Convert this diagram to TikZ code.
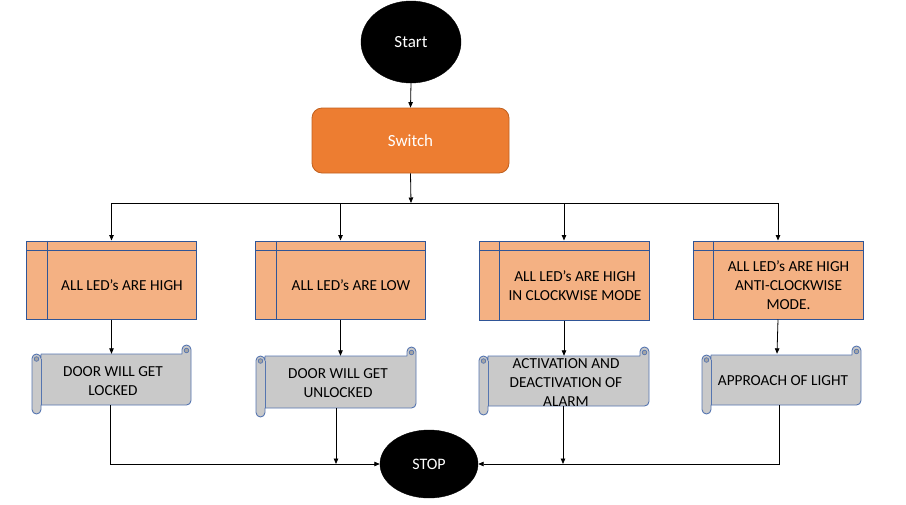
\documentclass[tikz,border=0pt]{standalone}
\usepackage{fontspec}
\setmainfont{Carlito}
\usetikzlibrary{arrows.meta,shapes.geometric,calc}
\definecolor{boxfill}{HTML}{F4B183}
\definecolor{boxline}{HTML}{2F5597}
\definecolor{scrollfill}{HTML}{C9C9C9}
\definecolor{scrollline}{HTML}{5575B0}
\definecolor{curlfill}{HTML}{A5A5A5}
\definecolor{swfill}{HTML}{ED7D31}
\definecolor{swline}{HTML}{C0601E}
\newcommand\myscroll[4]{%
  \draw[scrollsty] ({#1+9},{-(#3+9)}) -- ({#2-9},{-(#3+9)}) -- ({#2-9},{-(#3+4.5)})
    arc[start angle=180,end angle=0,radius=4.5] -- ({#2},{-(#4-13.5)})
    arc[start angle=0,end angle=-90,radius=4.5] -- ({#1+9},{-(#4-9)}) -- ({#1+9},{-(#4-4.5)})
    arc[start angle=0,end angle=-180,radius=4.5] -- ({#1},{-(#3+13.5)})
    arc[start angle=180,end angle=0,radius=4.5] -- cycle;
  \draw[scrollline,line width=0.9pt] ({#1+9},{-(#3+13.5)}) -- ({#1+9},{-(#4-9)});
  \draw[scrollline,line width=0.7pt,fill=curlfill] ({#2-4.5},{-(#3+5.5)}) circle (2.3);
  \draw[scrollline,line width=0.7pt,fill=curlfill] ({#1+4.5},{-(#3+14)}) circle (2.3);
}
\tikzset{
  conn/.style={line width=0.8pt,black},
  arr/.style={conn,-{Triangle[length=5.5pt,width=4.5pt]}},
  term/.style={ellipse,fill=black,draw=black,text=white,inner sep=0pt},
  storebox/.style={rectangle,fill=boxfill,draw=boxline,line width=1pt,inner sep=0pt,minimum width=170pt,minimum height=78pt},
  boxtext/.style={align=center,font=\fontsize{15.3}{19}\selectfont,inner sep=0pt},
  scrollsty/.style={fill=scrollfill,draw=scrollline,line width=0.9pt,line join=round},
  ghost/.style={rectangle,inner sep=0pt}
}
\begin{document}
\begin{tikzpicture}[x=1pt,y=1pt]
\useasboundingbox (0,0) rectangle (906,-504);
% start, switch
\node[term,minimum width=100pt,minimum height=82pt,font=\fontsize{17}{20}\selectfont] (start) at (411,-42) {\raisebox{-1.5pt}{Start}};
\node[rectangle,rounded corners=10pt,fill=swfill,draw=swline,line width=0.8pt,minimum width=197pt,minimum height=65pt,text=white,font=\fontsize{17}{20}\selectfont] (switch) at (410.5,-140.5) {Switch};
\coordinate (bus) at (411,-203);
\draw[arr] (start.south) -- (switch.north);
\draw[arr] (switch.south) -- (bus);
% storage boxes
\node[storebox] (b1) at (111.5,-280) {};
\node[storebox] (b2) at (340.5,-280) {};
\node[storebox,minimum height=79pt] (b3) at (564,-280.5) {};
\node[storebox] (b4) at (778,-280) {};
\foreach \b in {b1,b2,b3,b4}{
  \draw[boxline,line width=0.9pt] ([xshift=21pt]\b.north west) -- ([xshift=21pt]\b.south west);
  \draw[boxline,line width=0.9pt] ([yshift=-10pt]\b.north west) -- ([yshift=-10pt]\b.north east);
}
\node[boxtext] (t1) at (122,-285) {ALL LED’s ARE HIGH};
\node[boxtext] (t2) at (351,-285) {ALL LED’s ARE LOW};
\node[boxtext] (t3) at (575,-285.5) {ALL LED’s ARE HIGH\\IN CLOCKWISE MODE};
\node[boxtext] (t4) at (788.5,-285) {ALL LED’s ARE HIGH\\ANTI-CLOCKWISE\\MODE.};
% bus
\draw[conn] (b1.north |- bus) -- (b4.north |- bus);
\foreach \b in {b1,b2,b3,b4}{ \draw[arr] (\b.north |- bus) -- (\b.north); }
% scrolls
\myscroll{32}{191}{345}{414}
\myscroll{256}{416}{347}{417}
\myscroll{479}{649}{347}{415}
\myscroll{702}{861}{346}{414}
\node[ghost,minimum width=159pt,minimum height=51pt] (s1) at (111.5,-379.5) {};
\node[ghost,minimum width=160pt,minimum height=52pt] (s2) at (336,-382) {};
\node[ghost,minimum width=170pt,minimum height=50pt] (s3) at (563,-381) {};
\node[ghost,minimum width=159pt,minimum height=51pt] (s4) at (779,-379.5) {};
\node[boxtext] (u1) at (113,-381.5) {DOOR WILL GET\\LOCKED};
\node[boxtext] (u2) at (338,-383) {DOOR WILL GET\\UNLOCKED};
\node[boxtext] (u3) at (566,-383) {ACTIVATION AND\\DEACTIVATION OF\\ALARM};
\node[boxtext] (u4) at (783,-381) {APPROACH OF LIGHT};
\draw[arr] (b1.south) -- (b1.south |- s1.north);
\draw[arr] (b2.south) -- (b2.south |- s2.north);
\draw[arr] (b3.south) -- (b3.south |- s3.north);
\draw[arr] (b4.south) -- (s4.north -| 777,0);
% stop
\node[term,minimum width=98pt,minimum height=68pt,font=\fontsize{16}{19}\selectfont] (stop) at (429,-464) {STOP};
\draw[arr] (s1.south -| 110,0) |- (stop.west);
\draw[arr] (s4.south) |- (stop.east);
\draw[arr] (s2.south) -- (s2.south |- stop.west);
\draw[arr] (s3.south) -- (s3.south |- stop.east);
\end{tikzpicture}
\end{document}
